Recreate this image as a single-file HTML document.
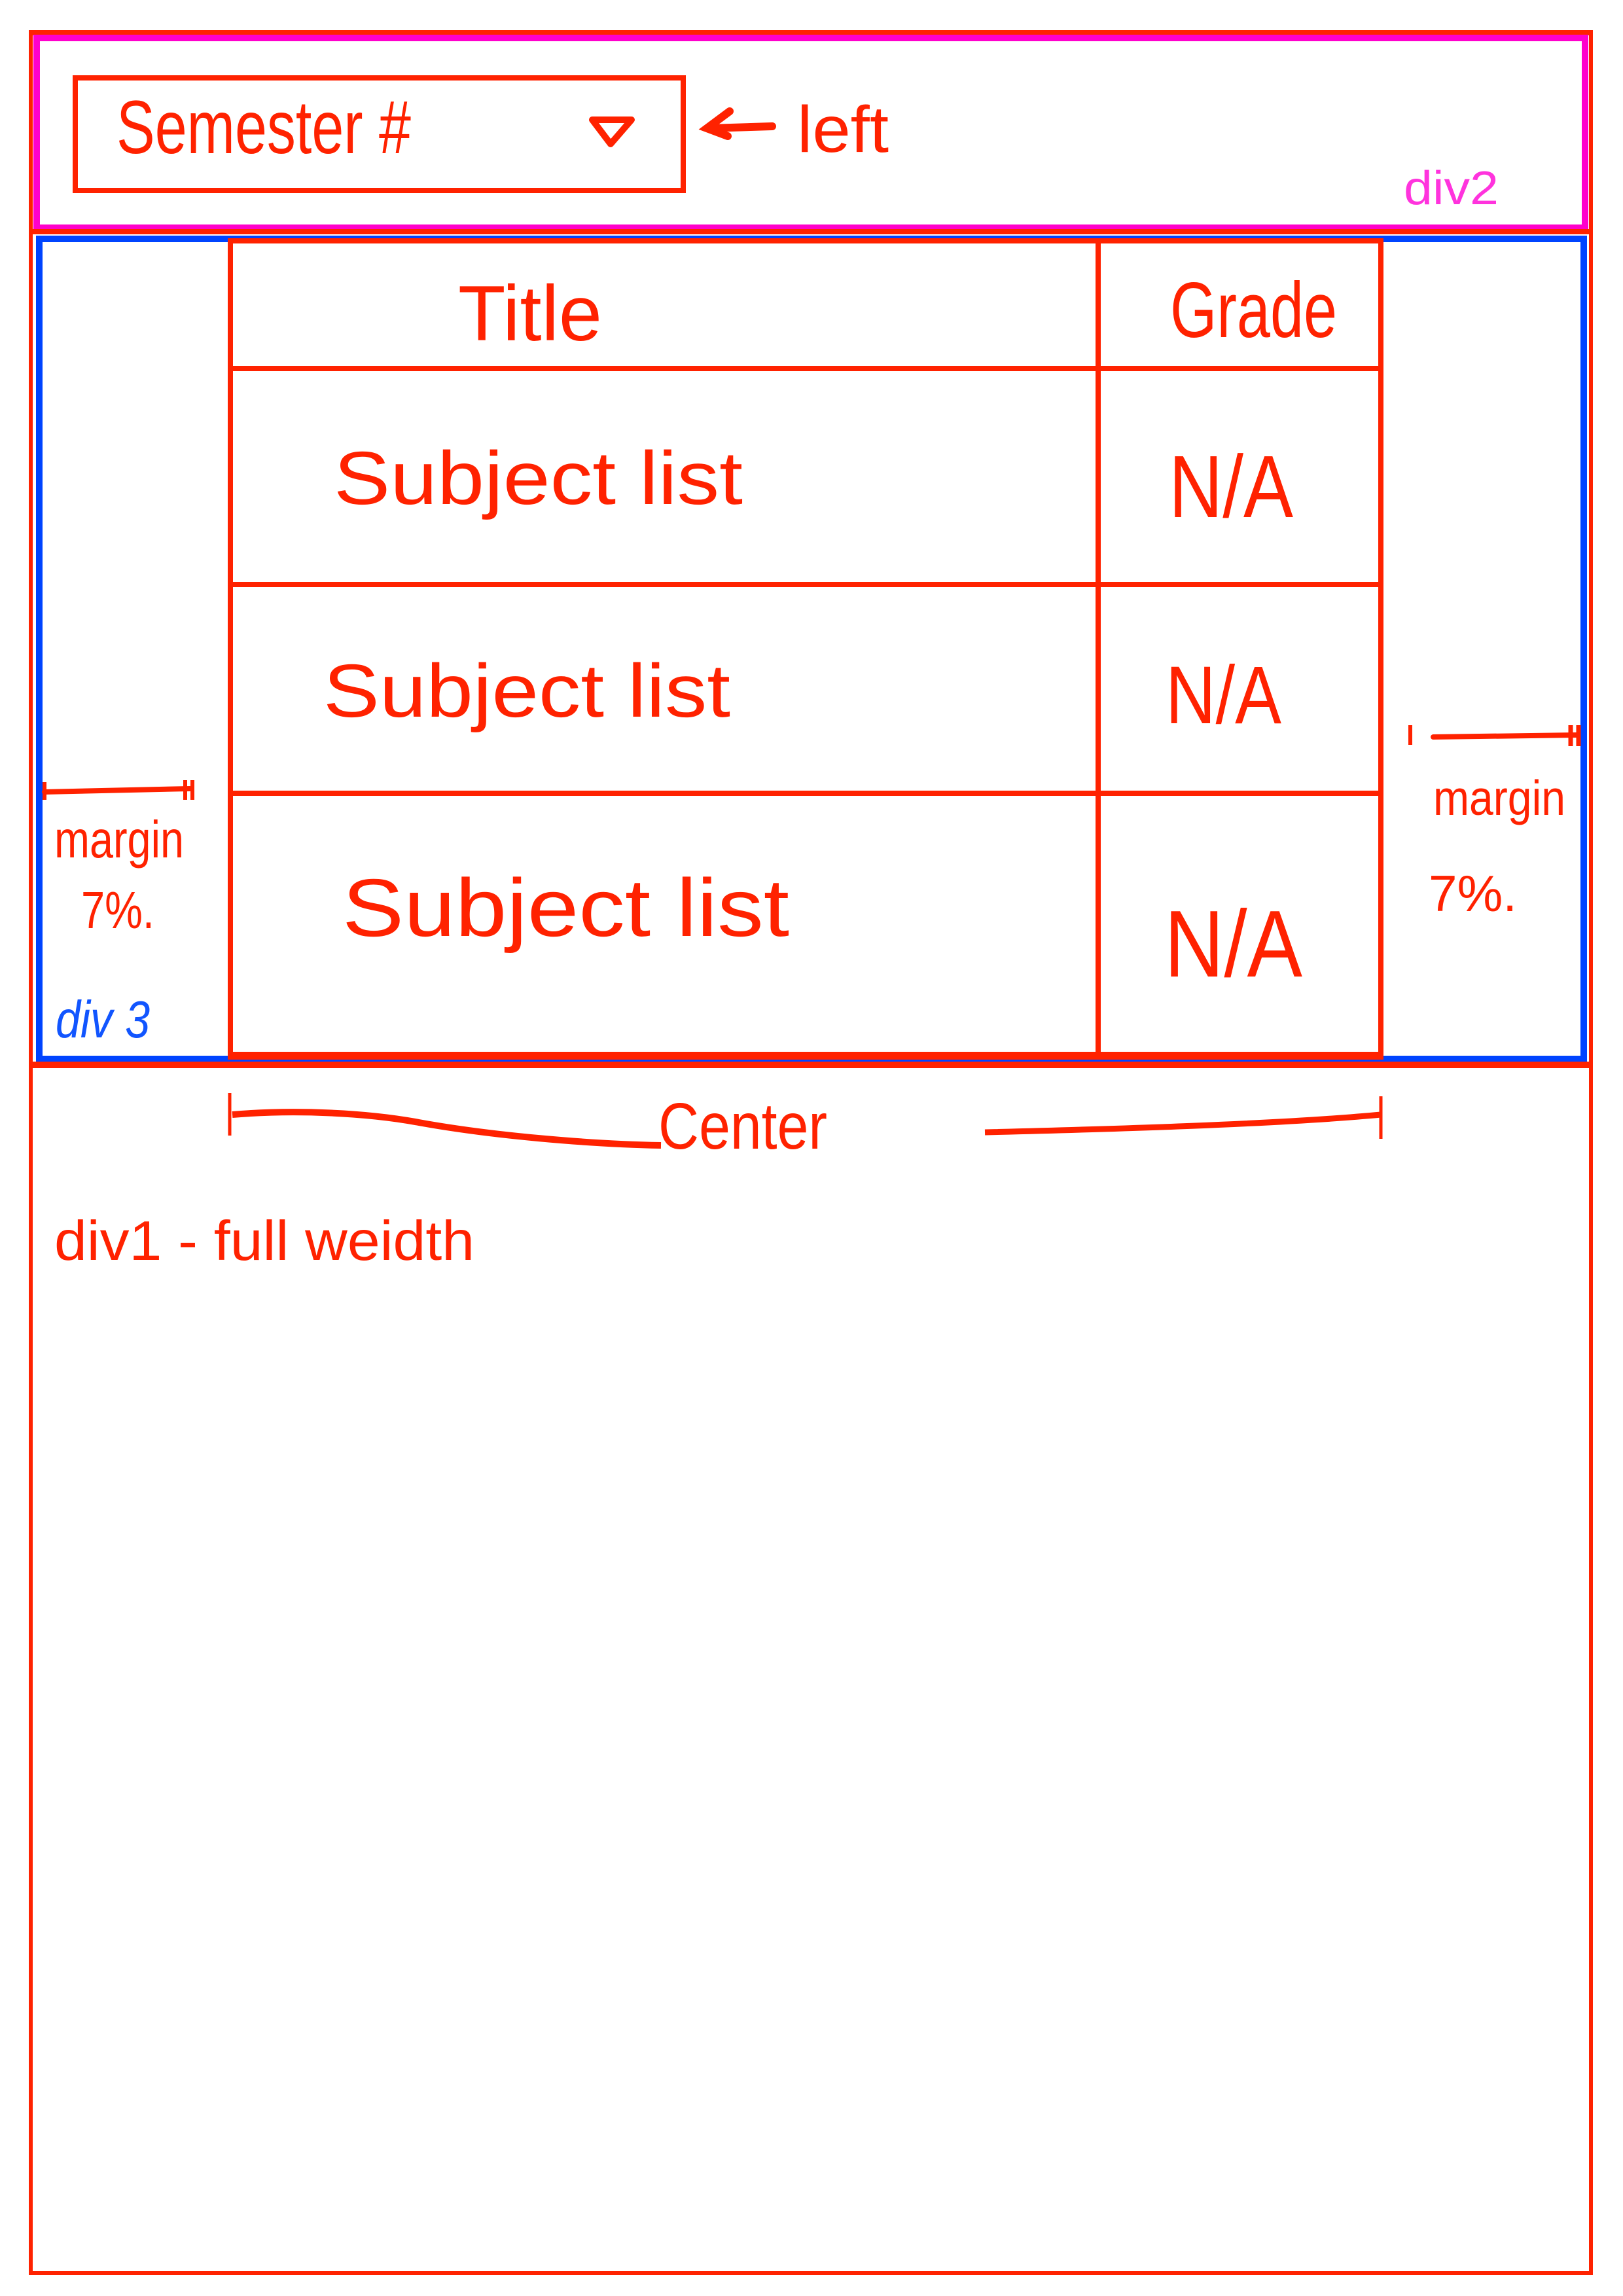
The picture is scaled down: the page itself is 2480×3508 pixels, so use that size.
<!DOCTYPE html>
<html><head><meta charset="utf-8"><style>
html,body{margin:0;padding:0;background:#fff;}
svg{display:block;}
text{font-family:"Liberation Sans",sans-serif;font-weight:normal;}
</style></head><body>
<svg width="2480" height="3508" viewBox="0 0 2480 3508" xmlns="http://www.w3.org/2000/svg">
<rect x="0" y="0" width="2480" height="3508" fill="#fff"/>
<rect x="47" y="50" width="2384" height="3423" fill="none" stroke="#ff2200" stroke-width="6"/>
<rect x="44" y="46" width="2390" height="8" fill="#ff2200"/>
<rect x="56" y="58" width="2366" height="290" fill="none" stroke="#ff00cc" stroke-width="10"/>
<rect x="44" y="350" width="2390" height="8" fill="#ff2200"/>
<rect x="60" y="365" width="2360" height="1253" fill="none" stroke="#0044ff" stroke-width="10"/>
<rect x="44" y="1622" width="2390" height="10" fill="#ff2200"/>
<g>
<rect x="115" y="119" width="929" height="172" fill="none" stroke="#ff2200" stroke-width="8"/>
<text x="178" y="234" font-size="115" fill="#ff2200" textLength="450" lengthAdjust="spacingAndGlyphs">Semester #</text>
<polygon points="905,183 965,183 933,220" fill="none" stroke="#ff2200" stroke-width="10" stroke-linejoin="round"/>
</g>
<g>
<line x1="1085" y1="196" x2="1180" y2="193" stroke="#ff2200" stroke-width="12" stroke-linecap="round"/>
<polyline points="1115,170 1080,196 1112,208" fill="none" stroke="#ff2200" stroke-width="12" stroke-linecap="round"/>
<text x="1218" y="232" font-size="100" fill="#ff2200" textLength="140" lengthAdjust="spacingAndGlyphs">left</text>
</g>
<text x="2145" y="312" font-size="72" fill="#ff33dd" textLength="145" lengthAdjust="spacingAndGlyphs">div2</text>
<g>
<rect x="352" y="368" width="1758" height="1247" fill="none" stroke="#ff2200" stroke-width="8"/>
<line x1="1678" y1="368" x2="1678" y2="1615" stroke="#ff2200" stroke-width="8"/>
<line x1="352" y1="563" x2="2110" y2="563" stroke="#ff2200" stroke-width="8"/>
<line x1="352" y1="893" x2="2110" y2="893" stroke="#ff2200" stroke-width="8"/>
<line x1="352" y1="1212" x2="2110" y2="1212" stroke="#ff2200" stroke-width="8"/>
<rect x="352" y="1607" width="1758" height="12" fill="#ff2200"/>
<text x="700" y="520" font-size="120" fill="#ff2200" textLength="220" lengthAdjust="spacingAndGlyphs">Title</text>
<text x="1788" y="515" font-size="120" fill="#ff2200" textLength="255" lengthAdjust="spacingAndGlyphs">Grade</text>
<text x="510" y="770" font-size="115" fill="#ff2200" textLength="625" lengthAdjust="spacingAndGlyphs">Subject  list</text>
<text x="1786" y="790" font-size="135" fill="#ff2200" font-weight="bold" textLength="190" lengthAdjust="spacingAndGlyphs">N/A</text>
<text x="494" y="1095" font-size="115" fill="#ff2200" textLength="622" lengthAdjust="spacingAndGlyphs">Subject  list</text>
<text x="1781" y="1105" font-size="125" fill="#ff2200" font-weight="bold" textLength="177" lengthAdjust="spacingAndGlyphs">N/A</text>
<text x="523" y="1430" font-size="125" fill="#ff2200" textLength="683" lengthAdjust="spacingAndGlyphs">Subject  list</text>
<text x="1779" y="1492" font-size="145" fill="#ff2200" font-weight="bold" textLength="211" lengthAdjust="spacingAndGlyphs">N/A</text>
</g>
<g>
<line x1="68" y1="1210" x2="290" y2="1205" stroke="#ff2200" stroke-width="8" stroke-linecap="round"/>
<line x1="68" y1="1195" x2="68" y2="1222" stroke="#ff2200" stroke-width="6"/>
<line x1="283" y1="1192" x2="283" y2="1222" stroke="#ff2200" stroke-width="6"/>
<line x1="294" y1="1192" x2="294" y2="1222" stroke="#ff2200" stroke-width="6"/>
<text x="83" y="1310" font-size="80" fill="#ff2200" font-weight="bold" textLength="198" lengthAdjust="spacingAndGlyphs">margin</text>
<text x="124" y="1418" font-size="80" fill="#ff2200" font-weight="bold" textLength="112" lengthAdjust="spacingAndGlyphs">7%.</text>
</g>
<text x="85" y="1585" font-size="80" fill="#1155ff" font-style="italic" font-weight="bold" textLength="144" lengthAdjust="spacingAndGlyphs">div 3</text>
<g>
<line x1="2190" y1="1126" x2="2410" y2="1123" stroke="#ff2200" stroke-width="8" stroke-linecap="round"/>
<line x1="2155" y1="1108" x2="2155" y2="1138" stroke="#ff2200" stroke-width="6"/>
<line x1="2400" y1="1108" x2="2400" y2="1140" stroke="#ff2200" stroke-width="7"/>
<line x1="2412" y1="1108" x2="2412" y2="1140" stroke="#ff2200" stroke-width="7"/>
<text x="2190" y="1245" font-size="75" fill="#ff2200" font-weight="bold" textLength="202" lengthAdjust="spacingAndGlyphs">margin</text>
<text x="2183" y="1392" font-size="78" fill="#ff2200" font-weight="bold" textLength="135" lengthAdjust="spacingAndGlyphs">7%.</text>
</g>
<g>
<line x1="351" y1="1670" x2="351" y2="1735" stroke="#ff2200" stroke-width="5"/>
<path d="M355,1703 C450,1695 560,1700 640,1715 C750,1735 900,1748 1010,1750" fill="none" stroke="#ff2200" stroke-width="10"/>
<text x="1006" y="1755" font-size="100" fill="#ff2200" textLength="258" lengthAdjust="spacingAndGlyphs">Center</text>
<path d="M1505,1730 C1700,1725 1950,1718 2110,1703" fill="none" stroke="#ff2200" stroke-width="9"/>
<line x1="2110" y1="1675" x2="2110" y2="1740" stroke="#ff2200" stroke-width="5"/>
</g>
<text x="83" y="1925" font-size="85" fill="#ff2200" textLength="642" lengthAdjust="spacingAndGlyphs">div1 - full  weidth</text>
</svg>
</body></html>
